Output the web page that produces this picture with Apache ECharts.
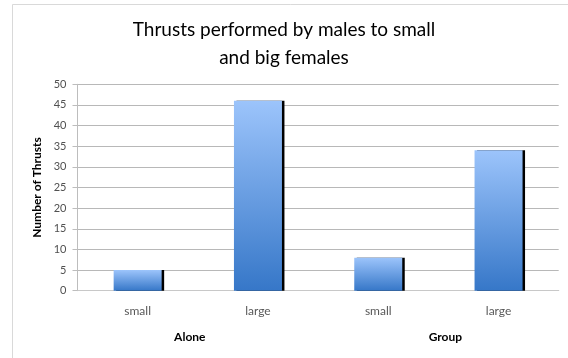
<!DOCTYPE html>
<html><head><meta charset="utf-8">
<script src="https://cdn.jsdelivr.net/npm/echarts@6/dist/echarts.min.js"></script>
<style>html,body{margin:0;padding:0;background:#fff}#c{width:568px;height:358px}</style>
</head><body><div id="c"></div>
<script>
const titleText = 'Thrusts performed by males to small\nand big females';
const categories = ['small', 'large', 'small', 'large'];
const groups = ['Alone', 'Group'];
const thrusts = [5, 46, 8, 34];
const yTicks = { min: 0, max: 50, interval: 5 };
const yName = 'Number of Thrusts';

const FONT = 'Lato, "Open Sans", sans-serif';
const chart = echarts.init(document.getElementById('c'), null, { renderer: 'canvas' });
chart.setOption({
  animation: false,
  backgroundColor: '#fff',
  graphic: [{
    type: 'rect', z: -10,
    shape: { x: 12.5, y: 4.5, width: 700, height: 500 },
    style: { fill: 'none', stroke: '#d9d9d9', lineWidth: 1 }
  }],
  title: {
    text: titleText, left: 'center', top: 16, padding: 0,
    textStyle: { fontFamily: FONT, fontSize: 19, fontWeight: 'normal', color: '#000', lineHeight: 28 }
  },
  grid: { left: 77.5, right: 9.3, top: 84.3, bottom: 67.3, containLabel: false },
  xAxis: [{
    type: 'category', data: categories, position: 'bottom',
    axisLine: { show: true, lineStyle: { color: '#c8c8c8', width: 1.2 } },
    axisTick: { show: false },
    axisLabel: { margin: 14, color: '#595959', fontSize: 12, fontFamily: FONT }
  }, {
    type: 'category', data: [
      { value: groups[0], textStyle: { padding: [0, 16, 0, 0] } },
      { value: groups[1], textStyle: { padding: [0, 0, 0, 14] } }
    ], position: 'bottom', gridIndex: 0,
    axisLine: { show: false }, axisTick: { show: false },
    axisLabel: { margin: 40, color: '#000', fontSize: 12, fontWeight: 'bold', fontFamily: FONT }
  }],
  yAxis: {
    type: 'value', min: yTicks.min, max: yTicks.max, interval: yTicks.interval,
    name: yName, nameLocation: 'middle', nameGap: 33, nameRotate: 90,
    nameTextStyle: { fontFamily: FONT, fontSize: 12, fontWeight: 'bold', color: '#000' },
    axisLine: { show: true, lineStyle: { color: '#bdbdbd' } },
    axisTick: { show: true, length: 5, lineStyle: { color: '#bdbdbd' } },
    axisLabel: { margin: 11, color: '#505050', fontSize: 11, fontFamily: FONT },
    splitLine: { show: true, lineStyle: { color: '#b8b8b8', width: 1 } }
  },
  series: [{
    type: 'bar', data: thrusts, xAxisIndex: 0, barWidth: 48,
    itemStyle: {
      color: new echarts.graphic.LinearGradient(0, 0, 0, 1, [
        { offset: 0, color: '#9cc4fb' },
        { offset: 1, color: '#3677c8' }
      ]),
      shadowColor: '#000', shadowBlur: 0, shadowOffsetX: 2.5, shadowOffsetY: 0
    }
  }]
});
</script></body></html>
